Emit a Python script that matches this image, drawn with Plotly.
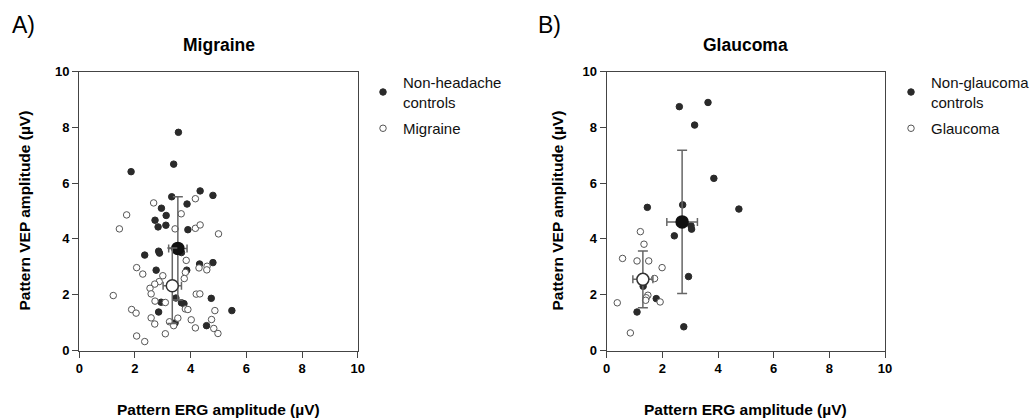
import plotly.graph_objects as go

# ---------------- Data ----------------
# Panel A: Migraine
ctrlA_x = [3.56, 3.39, 1.86, 3.32, 4.34, 4.80, 2.95, 3.87, 3.12, 2.72, 2.83, 3.11, 3.90, 2.35, 2.85,
           2.88, 3.67, 4.32, 4.80, 2.76, 3.86, 2.94, 3.47, 3.67, 3.76, 4.74, 2.85, 5.48, 3.44, 4.57]
ctrlA_y = [7.82, 6.68, 6.41, 5.51, 5.72, 5.56, 5.10, 5.25, 4.84, 4.67, 4.43, 4.49, 4.33, 3.42, 3.56,
           3.49, 3.51, 3.10, 3.15, 2.88, 2.88, 1.73, 1.88, 1.71, 1.68, 1.87, 1.38, 1.43, 0.99, 0.89]
migA_x = [1.70, 1.44, 2.67, 3.66, 4.17, 3.44, 4.17, 4.34, 5.00, 2.06, 2.28, 3.84, 4.30, 4.59, 4.58,
          3.81, 3.00, 2.87, 2.71, 2.54, 2.58, 3.77, 1.22, 4.20, 4.33, 2.72, 3.09, 3.81, 3.90, 1.88,
          2.04, 4.87, 2.58, 2.71, 3.24, 3.54, 4.02, 3.39, 4.75, 4.17, 4.83, 4.98, 3.09, 2.06, 2.35]
migA_y = [4.86, 4.36, 5.29, 4.90, 5.44, 4.36, 4.38, 4.50, 4.18, 2.97, 2.74, 3.23, 2.96, 3.02, 2.89,
          2.80, 2.68, 2.47, 2.38, 2.23, 2.03, 2.58, 1.97, 2.02, 2.03, 1.77, 1.72, 1.49, 1.47, 1.47,
          1.34, 1.43, 1.17, 0.95, 1.03, 1.16, 1.10, 0.89, 1.11, 0.81, 0.79, 0.61, 0.60, 0.52, 0.32]

# Panel B: Glaucoma
ctrlB_x = [2.61, 3.64, 3.16, 3.85, 4.75, 1.46, 2.73, 2.43, 3.03, 3.05, 2.94, 1.31, 1.78, 1.09, 2.77]
ctrlB_y = [8.74, 8.89, 8.08, 6.17, 5.07, 5.13, 5.22, 4.11, 4.47, 4.35, 2.65, 2.30, 1.86, 1.38, 0.85]
glaB_x = [1.21, 1.34, 0.57, 1.09, 1.51, 1.99, 1.72, 1.48, 1.42, 1.40, 1.92, 0.38, 0.85]
glaB_y = [4.26, 3.81, 3.30, 3.21, 3.21, 2.97, 2.58, 1.98, 1.89, 1.80, 1.74, 1.71, 0.63]

# Group means and error bars
meanA_ctrl = dict(x=3.54, y=3.66, ex=0.33, ey=1.85)
meanA_mig = dict(x=3.34, y=2.32, ex=0.33, ey=1.35)
meanB_ctrl = dict(x=2.71, y=4.61, ex=0.55, ey=2.57)
meanB_gla = dict(x=1.30, y=2.55, ex=0.36, ey=1.02)

ticks = [0, 2, 4, 6, 8, 10]

# ---------------- Styles ----------------
FONT = "Liberation Sans, Arial, sans-serif"
DARK = "#2a2a2a"
OPEN_LINE = "#555555"
ERR = "#666666"

fig = go.Figure()


def add_points(x, y, filled, name, xa, ya, legend):
    fig.add_trace(go.Scatter(
        x=x, y=y, mode="markers", name=name, xaxis=xa, yaxis=ya, legend=legend,
        legendgroup=name,
        marker=dict(size=6.5, color=DARK if filled else "white",
                    line=dict(color=DARK if filled else OPEN_LINE, width=1)),
        hoverinfo="x+y"))


def add_mean(m, filled, xa, ya):
    fig.add_trace(go.Scatter(
        x=[m["x"]], y=[m["y"]], mode="markers", showlegend=False, xaxis=xa, yaxis=ya,
        error_x=dict(type="data", array=[m["ex"]], color=ERR, thickness=1.5, width=4),
        error_y=dict(type="data", array=[m["ey"]], color=ERR, thickness=1.5, width=5),
        marker=dict(size=12, color="#111111" if filled else "white",
                    line=dict(color="#111111" if filled else "#333333", width=1.5))))


add_points(ctrlA_x, ctrlA_y, True, "Non-headache<br>controls", "x", "y", "legend")
add_points(migA_x, migA_y, False, "Migraine", "x", "y", "legend")
add_mean(meanA_ctrl, True, "x", "y")
add_mean(meanA_mig, False, "x", "y")

add_points(ctrlB_x, ctrlB_y, True, "Non-glaucoma<br>controls", "x2", "y2", "legend2")
add_points(glaB_x, glaB_y, False, "Glaucoma", "x2", "y2", "legend2")
add_mean(meanB_ctrl, True, "x2", "y2")
add_mean(meanB_gla, False, "x2", "y2")

W, H = 1031, 419


def px(xp):
    return xp / W


def py(yp):
    return (H - yp) / H


axis_common = dict(range=[0, 10], tickvals=ticks, ticktext=[str(t) for t in ticks],
                   showline=True, linecolor="#444444", linewidth=1.3, mirror=True,
                   ticks="outside", ticklen=6, tickwidth=1.3, tickcolor="#444444",
                   showgrid=False, zeroline=False, automargin=False,
                   tickfont=dict(family=FONT, size=13, color="black", weight="bold"))

ydom = [py(350.5), py(71.5)]

legend_common = dict(xanchor="left", yanchor="top",
                     font=dict(family=FONT, size=15, color="#111111"),
                     bgcolor="rgba(0,0,0,0)", itemsizing="trace", tracegroupgap=4)

fig.update_layout(
    template="none",
    width=W, height=H,
    margin=dict(l=0, r=0, t=0, b=0, autoexpand=False),
    paper_bgcolor="white", plot_bgcolor="white",
    showlegend=True,
    xaxis=dict(domain=[px(79.3), px(357.7)], anchor="y", **axis_common),
    yaxis=dict(domain=ydom, anchor="x", **axis_common),
    xaxis2=dict(domain=[px(606.7), px(885.0)], anchor="y2", **axis_common),
    yaxis2=dict(domain=ydom, anchor="x2", **axis_common),
    legend=dict(x=px(363), y=py(66), **legend_common),
    legend2=dict(x=px(891), y=py(66), **legend_common),
)

ann = []
label_font = dict(family=FONT, size=15.5, color="black", weight="bold")
for cx, letter, title, ycx, lx in [(218.5, "A)", "Migraine", 23.5, 10), (745.8, "B)", "Glaucoma", 556.5, 536)]:
    ann.append(dict(text=letter, xref="paper", yref="paper",
                    x=px(lx), y=py(25), xanchor="left", yanchor="middle",
                    showarrow=False, font=dict(family=FONT, size=23, color="black")))
    ann.append(dict(text=title, xref="paper", yref="paper", x=px(cx), y=py(45),
                    xanchor="center", yanchor="middle", showarrow=False,
                    font=dict(family=FONT, size=17.5, color="black", weight="bold")))
    ann.append(dict(text="Pattern ERG amplitude (\u00b5V)", xref="paper", yref="paper",
                    x=px(cx), y=py(409), xanchor="center", yanchor="middle", showarrow=False,
                    font=label_font))
    ann.append(dict(text="Pattern VEP amplitude (\u00b5V)", xref="paper", yref="paper",
                    x=px(ycx), y=py(211), xanchor="center", yanchor="middle", showarrow=False,
                    textangle=-90, font=label_font))
fig.update_layout(annotations=ann)

fig.write_html("out.html")
